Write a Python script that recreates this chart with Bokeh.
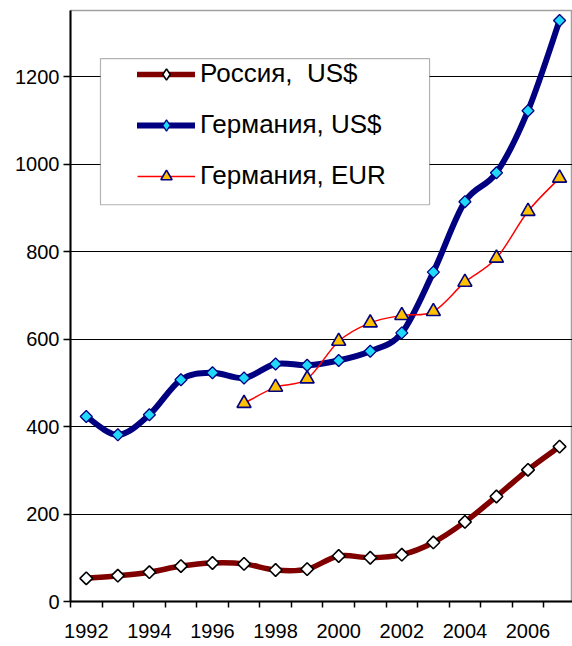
import numpy as np
from bokeh.plotting import figure
from bokeh.models import (ColumnDataSource, FixedTicker, Legend, LegendItem,
                          BoxAnnotation, Range1d)
from bokeh.embed import file_html
from bokeh.resources import INLINE

# ---- data ----
years = [1992, 1993, 1994, 1995, 1996, 1997, 1998, 1999,
         2000, 2001, 2002, 2003, 2004, 2005, 2006, 2007]
russia_usd = [53, 59, 67, 81, 88, 86, 72, 74,
              104, 100, 107, 135, 182, 240, 301, 354]
germany_usd = [423, 381, 427, 507, 523, 511, 543, 540,
               551, 572, 614, 753, 914, 980, 1122, 1328]
years_eur = [1997, 1998, 1999, 2000, 2001, 2002, 2003, 2004, 2005, 2006, 2007]
germany_eur = [453, 490, 509, 595, 637, 654, 663, 730, 785, 892, 968]

label_ru = "Россия,  US$"
label_de_usd = "Германия, US$"
label_de_eur = "Германия, EUR"
x_tick_labels = [1992, 1994, 1996, 1998, 2000, 2002, 2004, 2006]
y_ticks = [0, 200, 400, 600, 800, 1000, 1200]

FONT = "Liberation Sans"


def smooth_segments(xs, ys):
    """Bezier control points for a smooth curve through the data points."""
    xs = np.asarray(xs, float)
    ys = np.asarray(ys, float)
    n = len(xs)
    px = np.concatenate([[xs[0]], xs, [xs[-1]]])
    py = np.concatenate([[ys[0]], ys, [ys[-1]]])
    x0, y0, x1, y1, cx0, cy0, cx1, cy1 = ([] for _ in range(8))
    for i in range(n - 1):
        a, b, c, d = i, i + 1, i + 2, i + 3
        x0.append(px[b]); y0.append(py[b])
        x1.append(px[c]); y1.append(py[c])
        cx0.append(px[b] + (px[c] - px[a]) / 6.0)
        cy0.append(py[b] + (py[c] - py[a]) / 6.0)
        cx1.append(px[c] - (px[d] - px[b]) / 6.0)
        cy1.append(py[c] - (py[d] - py[b]) / 6.0)
    return ColumnDataSource(dict(x0=x0, y0=y0, x1=x1, y1=y1,
                                 cx0=cx0, cy0=cy0, cx1=cx1, cy1=cy1))


p = figure(width=572, height=646, output_backend="svg", toolbar_location=None,
           x_range=Range1d(1991.5, 2007.41), y_range=Range1d(0, 1351),
           min_border_left=70, min_border_right=0, min_border_top=10,
           min_border_bottom=45)
p.background_fill_color = "white"
p.border_fill_color = "white"
p.outline_line_color = "#a0a0a0"
p.outline_line_width = 1.5

# axes
p.xaxis.ticker = FixedTicker(ticks=x_tick_labels,
                             minor_ticks=[y - 0.5 for y in years] + [years[-1] + 0.5])
p.xaxis.major_tick_line_color = None
p.xaxis.minor_tick_line_color = "black"
p.xaxis.minor_tick_line_width = 1.5
p.xaxis.minor_tick_out = 6
p.xaxis.minor_tick_in = 0
p.xaxis.axis_line_width = 2
p.xaxis.axis_line_color = "black"
p.xaxis.major_label_text_font = FONT
p.xaxis.major_label_text_font_size = "20px"
p.xaxis.major_label_text_color = "black"
p.xaxis.major_label_standoff = 16

p.yaxis.ticker = FixedTicker(ticks=y_ticks)
p.yaxis.minor_tick_line_color = None
p.yaxis.major_tick_line_color = "black"
p.yaxis.major_tick_line_width = 1.5
p.yaxis.major_tick_out = 7
p.yaxis.major_tick_in = 0
p.yaxis.axis_line_width = 2
p.yaxis.axis_line_color = "black"
p.yaxis.major_label_text_font = FONT
p.yaxis.major_label_text_font_size = "20px"
p.yaxis.major_label_text_color = "black"
p.yaxis.major_label_standoff = 4

p.xgrid.grid_line_color = None
p.ygrid.grid_line_color = "black"
p.ygrid.grid_line_width = 1.2

# legend box (drawn beneath the legend entries)
box = BoxAnnotation(left=1992.45, right=2002.88, top=1241, bottom=907,
                    fill_color="white", fill_alpha=1.0,
                    line_color="black", line_width=1.2, level="glyph")
p.add_layout(box)

# series
RU_COL = "#800000"
DE_COL = "#000080"
EUR_COL = "#FF0000"
CYAN = "#20D8F8"
GOLD = "#FFC000"

p.bezier(x0="x0", y0="y0", x1="x1", y1="y1", cx0="cx0", cy0="cy0",
         cx1="cx1", cy1="cy1", source=smooth_segments(years, russia_usd),
         line_color=RU_COL, line_width=5.5, line_cap="round")
p.bezier(x0="x0", y0="y0", x1="x1", y1="y1", cx0="cx0", cy0="cy0",
         cx1="cx1", cy1="cy1", source=smooth_segments(years, germany_usd),
         line_color=DE_COL, line_width=6, line_cap="round")
p.bezier(x0="x0", y0="y0", x1="x1", y1="y1", cx0="cx0", cy0="cy0",
         cx1="cx1", cy1="cy1", source=smooth_segments(years_eur, germany_eur),
         line_color=EUR_COL, line_width=1.5)

p.scatter(years, russia_usd, marker="square", angle=np.pi / 4,
          size=9, fill_color="white", line_color="black", line_width=1.6)
p.scatter(years, germany_usd, marker="square", angle=np.pi / 4,
          size=8.5, fill_color=CYAN, line_color=DE_COL, line_width=1.3)
p.scatter(years_eur, germany_eur, marker="triangle",
          size=14, fill_color=GOLD, line_color=DE_COL, line_width=1.6)

# legend-only renderers (no visible data)
nan_src = lambda: ColumnDataSource(dict(x=[np.nan], y=[np.nan]))
ru_leg = p.line("x", "y", source=nan_src(), line_color=RU_COL, line_width=5.5,
                line_cap="round")
de_leg = p.line("x", "y", source=nan_src(), line_color=DE_COL, line_width=6,
                line_cap="round")
eur_leg = p.line("x", "y", source=nan_src(), line_color=EUR_COL, line_width=1.5)
ru_leg_m = p.scatter("x", "y", source=nan_src(), marker="diamond", size=10,
                     fill_color="white", line_color="black", line_width=1.6)
de_leg_m = p.scatter("x", "y", source=nan_src(), marker="diamond", size=10,
                     fill_color=CYAN, line_color=DE_COL, line_width=1.3)
eur_leg_m = p.scatter("x", "y", source=nan_src(), marker="triangle", size=12,
                      fill_color=GOLD, line_color=DE_COL, line_width=1.6)

legend = Legend(items=[
    LegendItem(label=label_ru, renderers=[ru_leg, ru_leg_m]),
    LegendItem(label=label_de_usd, renderers=[de_leg, de_leg_m]),
    LegendItem(label=label_de_eur, renderers=[eur_leg, eur_leg_m]),
], location=(67, 410))
legend.border_line_color = None
legend.background_fill_alpha = 0
legend.padding = 0
legend.margin = 0
legend.spacing = 20
legend.glyph_width = 58
legend.glyph_height = 28
legend.label_height = 28
legend.label_standoff = 5
legend.label_text_font = FONT
legend.label_text_font_size = "26px"
legend.label_text_color = "black"
p.add_layout(legend)

open("out.html", "w").write(file_html(p, INLINE))
